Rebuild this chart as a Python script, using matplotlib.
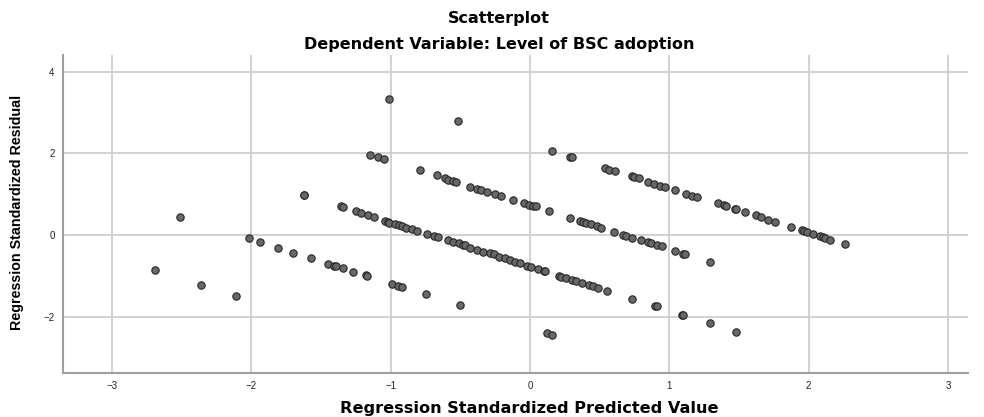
import matplotlib
matplotlib.use("Agg")
import matplotlib.pyplot as plt

title = "Scatterplot"
subtitle = "Dependent Variable: Level of BSC adoption"
xlabel = "Regression Standardized Predicted Value"
ylabel = "Regression Standardized Residual"
xticks = [-3, -2, -1, 0, 1, 2, 3]
yticks = [-2, 0, 2, 4]

# isolated points
iso_x = [-2.69, -2.51, -2.36, -2.11, -1.01, -0.52]
iso_y = [-0.86, 0.45, -1.22, -1.49, 3.33, 2.79]

# band 1 (lowest)
b1_x = [-2.02, -1.94, -1.81, -1.70, -1.57, -1.45, -1.41, -1.39, -1.34, -1.27, -1.18, -1.17,
        -0.99, -0.95, -0.92, -0.75, -0.50, 0.12, 0.16]
b1_y = [-0.08, -0.17, -0.31, -0.43, -0.57, -0.71, -0.75, -0.77, -0.82, -0.90, -0.99, -1.00,
        -1.20, -1.24, -1.28, -1.45, -1.72, -2.39, -2.44]

# band 2 (dense central)
b2_x = [-1.62, -1.62, -1.36, -1.34, -1.25, -1.21, -1.16, -1.12, -1.04, -1.02, -1.01, -0.97,
        -0.94, -0.92, -0.89, -0.85, -0.81, -0.74, -0.69, -0.66, -0.59, -0.55, -0.51, -0.48,
        -0.47, -0.43, -0.38, -0.34, -0.29, -0.26, -0.22, -0.18, -0.14, -0.11, -0.07, -0.02,
        0.01, 0.06, 0.10, 0.11, 0.21, 0.22, 0.26, 0.30, 0.33, 0.37, 0.42, 0.45, 0.49, 0.55,
        0.73, 0.90, 0.91, 1.09, 1.10, 1.29, 1.48]
b2_y = [0.99, 0.99, 0.71, 0.69, 0.58, 0.55, 0.48, 0.45, 0.35, 0.33, 0.30, 0.26,
        0.25, 0.22, 0.18, 0.14, 0.11, 0.02, -0.02, -0.04, -0.12, -0.16, -0.20, -0.24,
        -0.25, -0.31, -0.37, -0.41, -0.45, -0.47, -0.53, -0.57, -0.61, -0.65, -0.69, -0.75,
        -0.79, -0.83, -0.88, -0.87, -1.01, -1.02, -1.06, -1.10, -1.13, -1.17, -1.22, -1.25, -1.29, -1.36,
        -1.56, -1.74, -1.75, -1.95, -1.96, -2.16, -2.37]

# band 3
b3_x = [-1.15, -1.09, -1.05, -0.79, -0.67, -0.61, -0.59, -0.55, -0.53, -0.43, -0.38, -0.35,
        -0.31, -0.25, -0.21, -0.12, -0.04, -0.01, 0.02, 0.04, 0.14, 0.29, 0.36, 0.38, 0.40,
        0.44, 0.48, 0.51, 0.60, 0.67, 0.69, 0.73, 0.80, 0.85, 0.87, 0.91, 0.95, 1.04, 1.10,
        1.11, 1.29]
b3_y = [1.97, 1.90, 1.87, 1.59, 1.46, 1.39, 1.36, 1.33, 1.30, 1.18, 1.13, 1.10,
        1.06, 1.00, 0.96, 0.86, 0.78, 0.74, 0.72, 0.70, 0.59, 0.42, 0.34, 0.32, 0.30,
        0.26, 0.22, 0.18, 0.08, -0.01, -0.03, -0.07, -0.13, -0.18, -0.20, -0.24, -0.28, -0.40, -0.46,
        -0.47, -0.67]

# band 4 (upper right)
b4_x = [0.16, 0.29, 0.30, 0.54, 0.57, 0.61, 0.73, 0.75, 0.78, 0.85, 0.89, 0.93, 0.97,
        1.04, 1.12, 1.16, 1.20, 1.35, 1.39, 1.41, 1.47, 1.48, 1.54, 1.62, 1.66, 1.71, 1.76,
        1.87, 1.95, 1.97, 1.99, 2.03, 2.08, 2.10, 2.12, 2.15, 2.26]
b4_y = [2.06, 1.92, 1.92, 1.63, 1.59, 1.57, 1.44, 1.42, 1.40, 1.30, 1.25, 1.21, 1.18,
        1.10, 1.00, 0.96, 0.93, 0.78, 0.73, 0.70, 0.64, 0.63, 0.56, 0.48, 0.43, 0.37, 0.33,
        0.20, 0.12, 0.10, 0.08, 0.03, -0.02, -0.04, -0.07, -0.11, -0.21]

xs = iso_x + b1_x + b2_x + b3_x + b4_x
ys = iso_y + b1_y + b2_y + b3_y + b4_y

plt.rcParams['font.family'] = ['Liberation Sans', 'DejaVu Sans']

fig = plt.figure(figsize=(9.84, 4.17), dpi=100)
ax = fig.add_axes([63/984, 44/417, (968-63)/984, (373-55)/417])

ax.scatter(xs, ys, s=28, facecolor='#686868', edgecolor='#262626', linewidth=0.8, zorder=3)

ax.set_xlim(-3.352, 3.144)
ax.set_ylim(-3.38, 4.41)
ax.set_xticks(xticks)
ax.set_yticks(yticks)
ax.grid(True, color='#cfcfcf', linewidth=1.3)
ax.set_axisbelow(True)
for s in ['top', 'right']:
    ax.spines[s].set_visible(False)
for s in ['left', 'bottom']:
    ax.spines[s].set_color('#a0a0a0')
    ax.spines[s].set_linewidth(1.5)
ax.tick_params(length=0, labelsize=7, colors='#222222', pad=6)
ax.tick_params(axis='y', pad=6)

fig.text(529/984, 1 - 408/417, xlabel, ha='center', va='center', fontsize=11.6,
         fontweight='bold', family=['DejaVu Sans'])
fig.text(17/984, 1 - 212/417, ylabel, ha='center', va='center', rotation=90,
         fontsize=10.3, fontweight='bold')

fig.text(499/984, 1 - 18/417, title, ha='center', va='center', fontsize=11.5,
         fontweight='bold', family=['DejaVu Sans'])
fig.text(499/984, 1 - 45/417, subtitle, ha='center', va='center', fontsize=11.5,
         fontweight='bold', family=['DejaVu Sans'])

fig.savefig("out.png", dpi=100)
